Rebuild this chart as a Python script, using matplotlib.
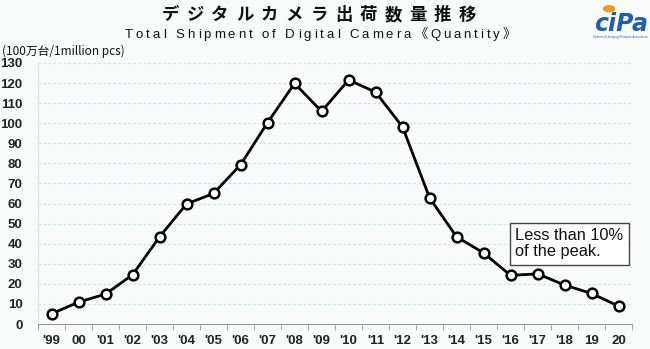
import matplotlib.pyplot as plt
from matplotlib.patches import Circle

years = ["'99", "00", "'01", "'02", "'03", "'04", "'05", "'06", "'07", "'08", "'09",
         "'10", "'11", "'12", "'13", "'14", "'15", "'16", "'17", "'18", "19", "20"]
shipments = [5.1, 10.9, 14.9, 24.5, 43.4, 59.8, 65.0, 79.3, 100.3, 119.8, 105.9,
             121.5, 115.5, 98.1, 62.8, 43.4, 35.4, 24.2, 25.0, 19.4, 15.2, 8.9]
y_ticks = list(range(0, 131, 10))
title_jp = 'デジタルカメラ出荷数量推移'
title_en = 'Total Shipment of Digital Camera《Quantity》'

W, H = 650, 349
bg = '#fafcfc'
fig = plt.figure(figsize=(W / 100, H / 100), dpi=100, facecolor=bg)
ax = fig.add_axes([0.0585, 0.0716, 0.914, 0.748], facecolor=bg)

x = range(len(years))
ax.plot(x, shipments, color='black', lw=2.0, marker='o', ms=7,
        mfc='white', mec='black', mew=1.8, zorder=5)

ax.set_xlim(-0.5, len(years) - 0.5)
ax.set_ylim(0, 130)
ax.set_yticks(y_ticks)
ax.set_yticklabels([str(v) for v in y_ticks], fontsize=9.5, color='#222222',
                   fontweight='bold', family='Liberation Sans')
ax.set_xticks(list(x))
ax.set_xticklabels(years, fontsize=9.5, color='#222222', fontweight='bold',
                   family='Liberation Sans')
ax.tick_params(axis='x', length=0, pad=8)
ax.tick_params(axis='y', length=0, pad=11)
ax.set_xticks([i - 0.5 for i in range(len(years) + 1)], minor=True)
ax.tick_params(axis='x', which='minor', length=4, color='#999999', direction='out')

for v in y_ticks[1:]:
    ax.axhline(v, color='#c8e6ea', lw=0.9, ls=(0, (2, 2)), zorder=1)

for s in ['top', 'right']:
    ax.spines[s].set_visible(False)
ax.spines['left'].set_color('#cfe7ec')
ax.spines['bottom'].set_color('#999999')

ax.text(17.17, 40, 'Less than 10%\nof the peak.', fontsize=11.8, va='center', ha='left',
        family='Liberation Sans', color='#111111', linespacing=1.1,
        bbox=dict(boxstyle='square,pad=0.32', fc='white', ec='#444444', lw=1.0), zorder=6)

jp = ['Noto Sans CJK JP', 'DejaVu Sans']
renderer = fig.canvas.get_renderer()


# letter-spaced (tracked) text between x0 and x1, in pixels
def tracked(text, x0, x1, y, **kw):
    items = []
    for ch in text:
        t = fig.text(0, 1 - y / H, ch, ha='left', va='center', **kw)
        w = t.get_window_extent(renderer).width
        if ch == ' ':
            w = kw['fontsize'] * 0.28 * 100 / 72
        items.append((t, w))
    extra = (x1 - x0 - sum(w for _, w in items)) / (len(items) - 1)
    pos = x0
    for t, w in items:
        t.set_x(pos / W)
        pos += w + extra


tracked(title_jp, 162, 476, 15, fontsize=12.5, fontweight='bold', family=jp, color='#111111')
tracked(title_en, 125, 516, 35, fontsize=9.5, family=['Liberation Sans', 'Noto Sans CJK JP'],
        color='#111111')

fig.text(0.003, 0.853, '(100万台/1million pcs)', fontsize=8.5, family=jp,
         ha='left', va='center', color='#111111')

# logo
fig.text(0.955, 0.932, 'ciPa', fontsize=17, fontweight='bold', style='italic',
         color='#1f5fae', ha='center', va='center', family='DejaVu Sans')
fig.patches.append(Circle((0.937, 0.975), 0.0085, transform=fig.transFigure,
                          color='#f39a2a', zorder=5))
fig.text(0.955, 0.895, 'Camera & Imaging Products Association', fontsize=2,
         color='#1f5fae', ha='center', va='center')

fig.savefig('out.png', dpi=100, facecolor=bg)
